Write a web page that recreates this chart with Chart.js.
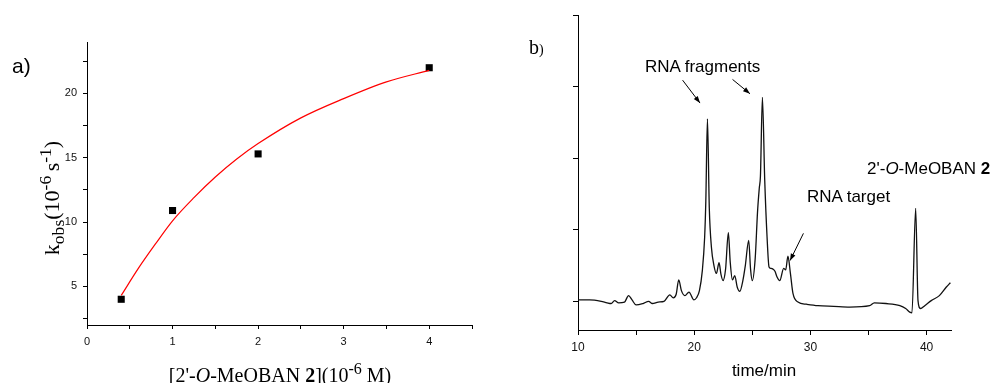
<!DOCTYPE html>
<html>
<head>
<meta charset="utf-8">
<script src="https://cdn.jsdelivr.net/npm/chart.js@4.4.1/dist/chart.umd.min.js"></script>
<style>
body { margin: 0; background: #fff; width: 995px; height: 383px; position: relative; overflow: hidden; }
canvas { position: absolute; top: 0; }
.t { position: absolute; white-space: nowrap; color: #000; }
.serif { font-family: "Liberation Serif", "Times New Roman", serif; }
.sans { font-family: "Liberation Sans", Arial, sans-serif; }
sup, sub { font-size: 80%; line-height: 0; }
</style>
</head>
<body>
<canvas id="chartA" width="500" height="383" style="left:0"></canvas>
<canvas id="chartB" width="495" height="383" style="left:500px"></canvas>

<div class="t sans" style="left:12px;top:55px;font-size:21px;line-height:21px">a)</div>
<div class="t serif" style="left:52px;top:198px;font-size:22px;transform:translate(-50%,-50%) rotate(-90deg)">k<sub>obs</sub>(10<sup>-6 </sup>s<sup>-1</sup>)</div>
<div class="t serif" style="left:280px;top:365px;font-size:20px;line-height:20px;transform:translateX(-50%)">[2'-<i>O</i>-MeOBAN <b>2</b>](10<sup>-6</sup> M)</div>

<div class="t serif" style="left:529px;top:37px;font-size:20px;line-height:20px">b<span style="font-size:14px">)</span></div>
<div class="t sans" style="left:645px;top:58px;font-size:17px;line-height:17px">RNA fragments</div>
<div class="t sans" style="left:807px;top:188px;font-size:17px;line-height:17px">RNA target</div>
<div class="t sans" style="left:867px;top:160px;font-size:17px;line-height:17px">2'-<i>O</i>-MeOBAN <b>2</b></div>
<div class="t sans" style="left:764px;top:362px;font-size:17px;line-height:17px;transform:translateX(-50%)">time/min</div>

<script>
// panel a: rate constant vs concentration
const conc = [0.4, 1, 2, 4];
const kobs = [4.0, 10.9, 15.3, 22.0];
const fitX = [0.4, 0.6, 0.8, 1.0, 1.25, 1.5, 1.75, 2.0, 2.5, 3.0, 3.5, 4.0];
const fitY = [4.3, 6.4, 8.3, 10.1, 11.9, 13.5, 14.9, 16.1, 18.1, 19.6, 20.9, 21.8];
const aTicksX = [0, 0.5, 1, 1.5, 2, 2.5, 3, 3.5, 4, 4.5];
const aTicksY = [2.5, 5, 7.5, 10, 12.5, 15, 17.5, 20, 22.5];

// panel b: chromatogram
const time = [10.0, 11.0, 12.0, 12.5, 12.85, 13.15, 13.5, 14.0, 14.35, 14.65, 15.0, 15.6, 16.08, 16.4, 16.9, 17.4,
  17.9, 18.2, 18.45, 18.67, 18.9, 19.2, 19.55, 19.98, 20.2, 20.45, 20.7, 20.9, 21.0, 21.14, 21.3, 21.48,
  21.7, 21.91, 22.14, 22.3, 22.48, 22.7, 22.94, 23.1, 23.29, 23.49, 23.7, 23.92, 24.2, 24.4, 24.69, 24.85,
  25.0, 25.25, 25.45, 25.6, 25.7, 25.87, 26.07, 26.27, 26.44, 26.6, 26.78, 26.95, 27.13, 27.36, 27.7, 27.87,
  28.07, 28.28, 28.5, 28.93, 29.66, 30.65, 32.0, 33.4, 35.1, 35.5, 36.5, 37.7, 38.2, 38.55, 38.74, 39.06,
  39.26, 39.47, 39.84, 40.4, 41.1, 41.7, 42.05];
const signal = [0.02, 0.02, 0.0, -0.02, -0.03, 0.01, -0.02, -0.01, 0.08, 0.02, -0.05, -0.03, 0.0, -0.03, -0.01, 0.0,
  0.09, 0.05, 0.1, 0.3, 0.15, 0.08, 0.13, 0.02, 0.05, 0.15, 0.43, 0.9, 1.4, 2.55, 1.3, 0.76,
  0.5, 0.39, 0.54, 0.38, 0.29, 0.45, 0.96, 0.55, 0.3, 0.36, 0.2, 0.14, 0.3, 0.5, 0.85, 0.45,
  0.29, 0.6, 1.25, 1.58, 1.75, 2.85, 1.69, 0.9, 0.48, 0.46, 0.45, 0.42, 0.34, 0.29, 0.46, 0.44,
  0.63, 0.39, 0.11, -0.01, -0.04, -0.06, -0.07, -0.08, -0.06, -0.02, -0.03, -0.06, -0.1, -0.15, -0.16, 1.30,
  0.01, -0.1, -0.06, 0.01, 0.08, 0.2, 0.26];
const bTicksX = [10, 15, 20, 25, 30, 35, 40];
const bTicksY = [0, 1, 2, 3, 4];

// annotation arrows, [time, signal] from -> to
const arrowFrom = [[19.0, 3.09], [23.3, 3.10], [29.4, 0.95]];
const arrowTo = [[20.5, 2.77], [24.8, 2.90], [28.25, 0.57]];

function axis(min, max, ticks, label, width, height, tl, pad, fs) {
  return {
    type: 'linear', min: min, max: max,
    border: { display: true, color: '#000', width: 1 },
    grid: { display: true, drawOnChartArea: false, drawTicks: true, tickLength: tl, tickColor: '#000', tickWidth: 1 },
    ticks: { autoSkip: false, color: '#111', font: { family: "'Liberation Sans', Arial, sans-serif", size: fs },
      padding: pad, maxRotation: 0, callback: label },
    afterBuildTicks: function (s) { s.ticks = ticks.map(v => ({ value: v })); },
    afterFit: function (s) { if (width) s.width = width; if (height) s.height = height; }
  };
}

new Chart(document.getElementById('chartA'), {
  type: 'scatter',
  data: {
    datasets: [{
      data: fitX.map((x, i) => ({ x: x, y: fitY[i] })),
      showLine: true, borderColor: '#ff0000', borderWidth: 1.2, pointRadius: 0, cubicInterpolationMode: 'monotone'
    }, {
      data: conc.map((x, i) => ({ x: x, y: kobs[i] })),
      showLine: false, pointStyle: 'rect', pointRadius: 5, backgroundColor: '#000', borderColor: '#000', borderWidth: 0
    }]
  },
  options: {
    responsive: false, animation: false,
    layout: { padding: { top: 42, right: 28, left: 0, bottom: 0 } },
    plugins: { legend: { display: false }, tooltip: { enabled: false } },
    scales: {
      x: axis(0, 4.5, aTicksX, v => Number.isInteger(v) ? String(v) : '', 0, 58, 4, 6, 11),
      y: axis(2, 24, aTicksY, v => v % 5 === 0 ? String(v) : '', 87, 0, 4, 6, 11)
    }
  }
});

const arrows = {
  id: 'arrows',
  afterDatasetsDraw(chart) {
    const ctx = chart.ctx, xs = chart.scales.x, ys = chart.scales.y;
    ctx.save();
    ctx.strokeStyle = '#000';
    ctx.fillStyle = '#000';
    ctx.lineWidth = 1;
    arrowFrom.forEach((f, i) => {
      const x1 = xs.getPixelForValue(f[0]), y1 = ys.getPixelForValue(f[1]);
      const x2 = xs.getPixelForValue(arrowTo[i][0]), y2 = ys.getPixelForValue(arrowTo[i][1]);
      const a = Math.atan2(y2 - y1, x2 - x1);
      ctx.beginPath(); ctx.moveTo(x1, y1); ctx.lineTo(x2, y2); ctx.stroke();
      ctx.beginPath();
      ctx.moveTo(x2, y2);
      ctx.lineTo(x2 - 7 * Math.cos(a) + 2.5 * Math.sin(a), y2 - 7 * Math.sin(a) - 2.5 * Math.cos(a));
      ctx.lineTo(x2 - 7 * Math.cos(a) - 2.5 * Math.sin(a), y2 - 7 * Math.sin(a) + 2.5 * Math.cos(a));
      ctx.closePath(); ctx.fill();
    });
    ctx.restore();
  }
};

new Chart(document.getElementById('chartB'), {
  type: 'scatter',
  data: {
    datasets: [{
      data: time.map((t, i) => ({ x: t, y: signal[i] })),
      showLine: true, borderColor: '#111', borderWidth: 1.3, pointRadius: 0, cubicInterpolationMode: 'monotone'
    }]
  },
  options: {
    responsive: false, animation: false,
    layout: { padding: { top: 15, right: 44, left: 0, bottom: 0 } },
    plugins: { legend: { display: false }, tooltip: { enabled: false } },
    scales: {
      x: axis(10, 42.1, bTicksX, v => v % 10 === 0 ? String(v) : '', 0, 53, 5, 5, 12),
      y: axis(-0.4, 4, bTicksY, () => '', 78, 0, 5, 0, 12)
    }
  },
  plugins: [arrows]
});
</script>
</body>
</html>
